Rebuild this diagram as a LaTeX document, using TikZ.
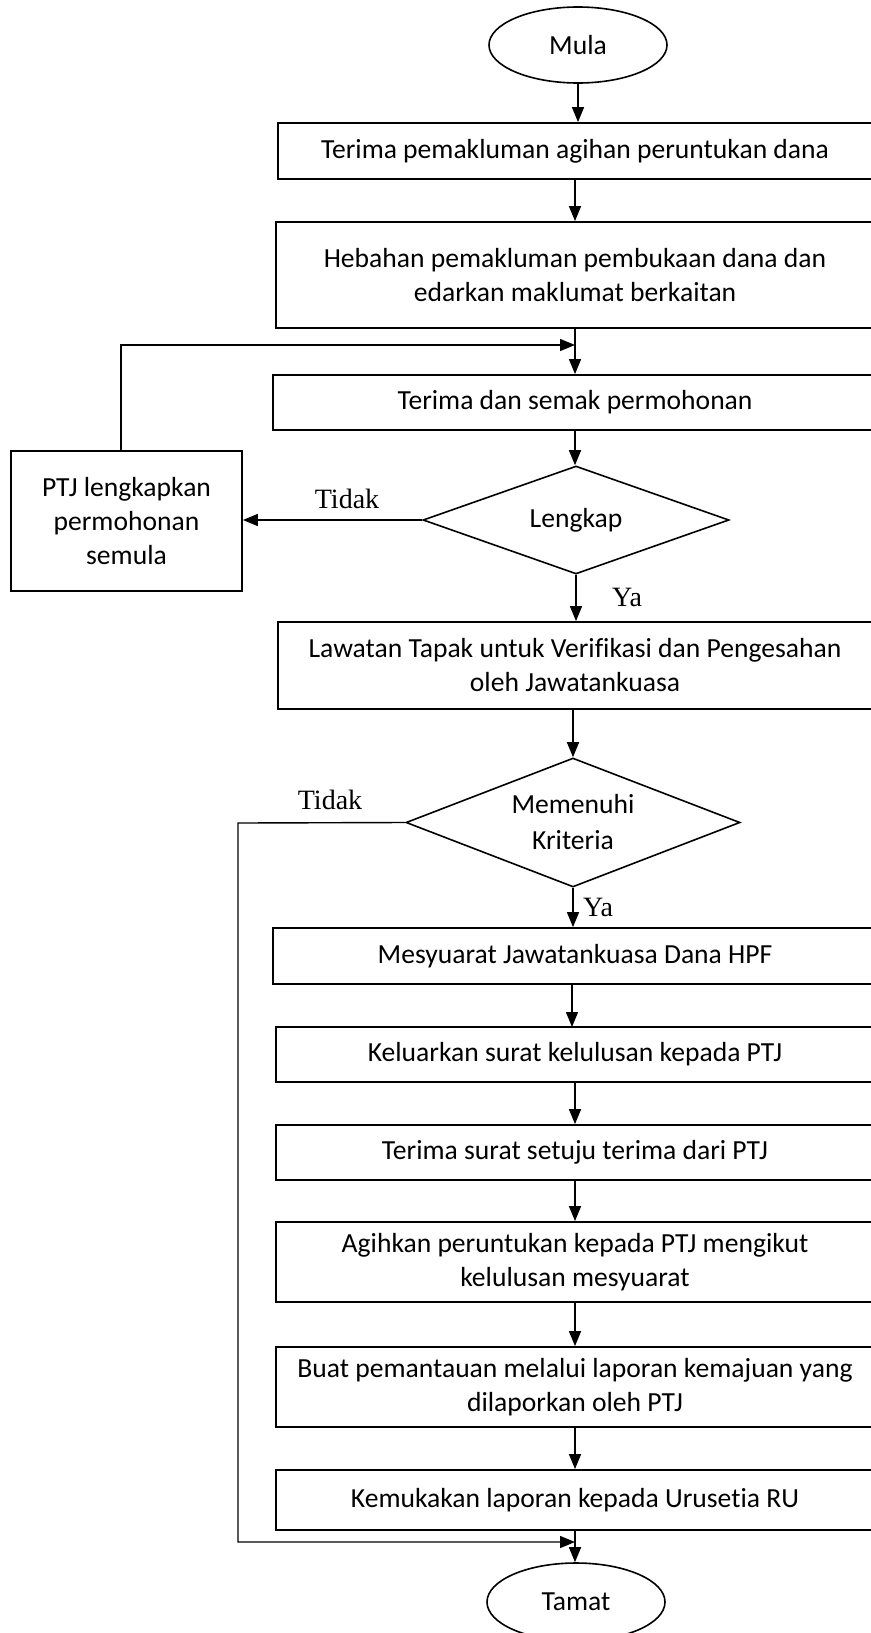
\documentclass[tikz,border=0pt]{standalone}
\usepackage{fontspec}
\setmainfont{Carlito}[Ligatures=NoCommon]
\newfontfamily\lblfont{Liberation Serif}
\usetikzlibrary{shapes.geometric,arrows.meta}
\begin{document}
\begin{tikzpicture}[x=0.5pt,y=-0.5pt,
  every node/.style={font=\fontsize{13.8pt}{17pt}\selectfont},
  procbox/.style={draw,line width=0.9pt,rectangle,inner sep=0pt,align=center},
  termnode/.style={draw,line width=0.8pt,ellipse,inner sep=0pt,minimum width=89pt,minimum height=38pt},
  decnode/.style={draw,line width=0.8pt,diamond,inner sep=0pt,align=center},
  arr/.style={line width=0.7pt,-{Triangle[length=7.5pt,width=6pt]}},
  lbl/.style={font=\lblfont\fontsize{14pt}{16pt}\selectfont,inner sep=0pt}]
\useasboundingbox (0,0) rectangle (871,1633);
\clip (0,0) rectangle (871,1633);
\fill[white] (0,0) rectangle (871,1633);

\node[termnode] (mula) at (578,45) {Mula};
\node[procbox,minimum width=297pt,minimum height=28pt] (b1) at (575,151) {Terima pemakluman agihan peruntukan dana};
\node[procbox,minimum width=299pt,minimum height=53pt] (b2) at (575,275) {Hebahan pemakluman pembukaan dana dan\\edarkan maklumat berkaitan};
\node[procbox,minimum width=302pt,minimum height=27.5pt] (b3) at (575,402.5) {Terima dan semak permohonan};
\node[procbox,minimum width=115.5pt,minimum height=70pt] (ptj) at (126.5,521) {PTJ lengkapkan\\permohonan\\semula};
\node[decnode,minimum width=153pt,minimum height=54pt,aspect=2.83] (d1) at (576,520) {\raisebox{2pt}{Lengkap}};
\node[procbox,minimum width=297pt,minimum height=43.5pt] (b4) at (575,665.5) {Lawatan Tapak untuk Verifikasi dan Pengesahan\\oleh Jawatankuasa};
\node[decnode,minimum width=167pt,minimum height=64.5pt,aspect=2.57] (d2) at (573,822.5) {Memenuhi\\[1pt]Kriteria};
\node[procbox,minimum width=302pt,minimum height=28pt] (b5) at (575,956) {Mesyuarat Jawatankuasa Dana HPF};
\node[procbox,minimum width=299pt,minimum height=27.5pt] (b6) at (575,1054.5) {Keluarkan surat kelulusan kepada PTJ};
\node[procbox,minimum width=299pt,minimum height=27.5pt] (b7) at (575,1152.5) {Terima surat setuju terima dari PTJ};
\node[procbox,minimum width=299pt,minimum height=40pt] (b8) at (575,1262) {Agihkan peruntukan kepada PTJ mengikut\\kelulusan mesyuarat};
\node[procbox,minimum width=299pt,minimum height=40pt] (b9) at (575,1387) {Buat pemantauan melalui laporan kemajuan yang\\dilaporkan oleh PTJ};
\node[procbox,minimum width=299pt,minimum height=30pt] (b10) at (575,1500) {Kemukakan laporan kepada Urusetia RU};
\node[termnode,minimum height=39pt] (tamat) at (576,1602) {Tamat};

\node[lbl] (t1) at (347,499) {Tidak};
\node[lbl] (y1) at (627,597) {Ya};
\node[lbl] (t2) at (330,800) {Tidak};
\node[lbl] (y2) at (598,907) {Ya};

\coordinate (j1) at (575,345);
\coordinate (c1) at (121,345);
\coordinate (c2) at (238,823);
\coordinate (c3) at (238,1542);
\coordinate (j2) at (575,1542);

\draw[arr] (mula.south) -- (mula.south |- b1.north);
\draw[arr] (b1.south) -- (b2.north);
\draw[arr] (b2.south) -- (b3.north);
\draw[arr] (b3.south) -- (b3.south |- d1.north);
\draw[arr] (d1.west) -- (ptj.east |- d1.west);
\draw[arr] (ptj.north -| c1) -- (c1) -- (j1);
\draw[arr] (d1.south) -- (d1.south |- b4.north);
\draw[arr] (b4.south -| d2.north) -- (d2.north);
\draw[arr] (d2.south) -- (d2.south |- b5.north);
\draw[arr] (b5.south -| 572,0) -- (572,1027);
\draw[arr] (b6.south) -- (b7.north);
\draw[arr] (b7.south) -- (b8.north);
\draw[arr] (b8.south) -- (b9.north);
\draw[arr] (b9.south) -- (b10.north);
\draw[arr] (b10.south) -- (b10.south |- tamat.north);
\draw[arr] (d2.west) -- (c2) -- (c3) -- (j2);
\end{tikzpicture}
\end{document}
